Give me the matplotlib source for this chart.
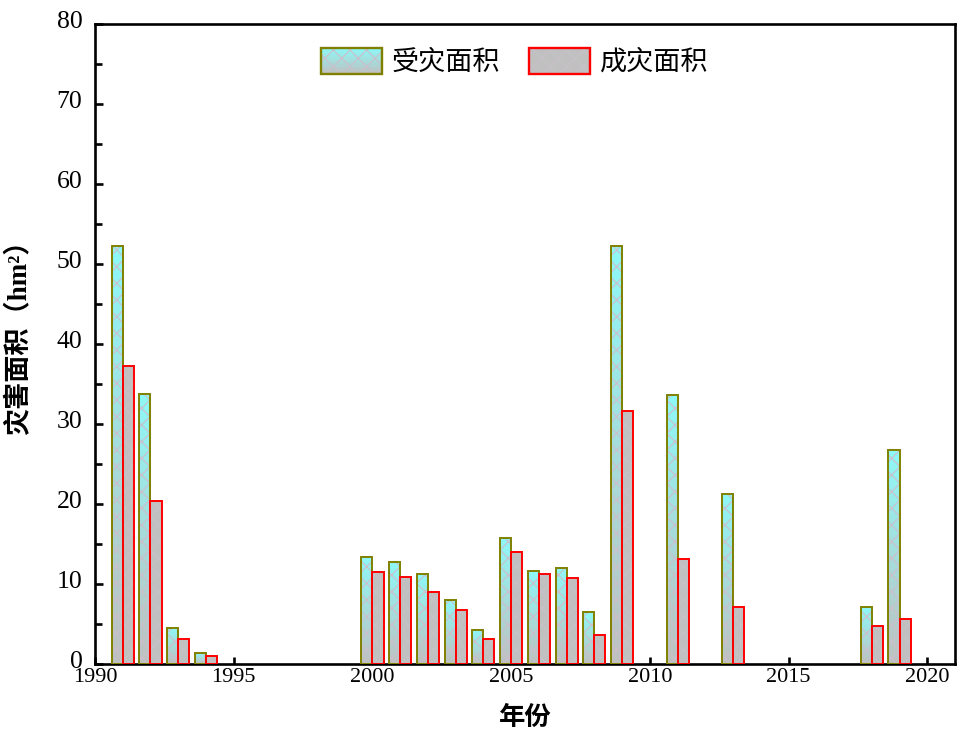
import numpy as np
import matplotlib
matplotlib.use("Agg")
import matplotlib.pyplot as plt
from matplotlib.patches import Rectangle
from matplotlib.legend_handler import HandlerBase
from matplotlib.image import BboxImage
from matplotlib.transforms import Bbox, TransformedBbox, ScaledTranslation
from matplotlib.colors import LinearSegmentedColormap

years = [1991, 1992, 1993, 1994, 2000, 2001, 2002, 2003, 2004, 2005,
         2006, 2007, 2008, 2009, 2011, 2013, 2018, 2019]
affected = [52.2, 33.8, 4.5, 1.4, 13.4, 12.7, 11.3, 8.0, 4.2, 15.7,
            11.6, 12.0, 6.5, 52.2, 33.6, 21.25, 7.1, 26.8]
damaged = [37.2, 20.4, 3.1, 1.0, 11.5, 10.9, 9.0, 6.8, 3.1, 14.0,
           11.2, 10.75, 3.6, 31.6, 13.1, 7.1, 4.8, 5.6]
series_names = ["受灾面积", "成灾面积"]
xlabel = "年份"
ylabel = "灾害面积（hm²）"

CYAN = "#8ef8f8"
GRAY = "#c0c0c0"
OLIVE = "#808000"
RED = "#ff0000"
HATCH_C = "#cbbfcb"
HATCH_C2 = "#c8c2c8"
grad_cmap = LinearSegmentedColormap.from_list("g", [GRAY, CYAN])
grad = np.linspace(0, 1, 256).reshape(-1, 1)

plt.rcParams["hatch.linewidth"] = 0.8
serif = ["Liberation Serif", "Noto Sans CJK SC"]
cjk = ["Noto Sans CJK SC", "Liberation Serif"]

fig = plt.figure(figsize=(9.69, 7.33), dpi=100)
ax = fig.add_axes([0.098, 0.0941, 0.8876, 0.8732])

w = 0.40
x = np.array(years, dtype=float)

# affected: gradient + hatch + outline
b1 = ax.bar(x - w, affected, width=w, align="edge", facecolor="none",
            edgecolor=OLIVE, linewidth=1.4, zorder=4)
ax.bar(x - w, affected, width=w, align="edge", fill=False, hatch="xx",
       edgecolor=HATCH_C, linewidth=0, zorder=3)
for p in b1.patches:
    x0, y0 = p.get_x(), p.get_y()
    im = ax.imshow(grad, cmap=grad_cmap, origin="lower", aspect="auto",
                   extent=(x0, x0 + p.get_width(), y0, y0 + p.get_height()),
                   zorder=2, interpolation="bilinear")
    im.set_clip_path(p)

# damaged: gray + faint hatch + outline
ax.bar(x, damaged, width=w, align="edge", facecolor=GRAY,
       edgecolor="none", linewidth=0, zorder=2)
ax.bar(x, damaged, width=w, align="edge", fill=False, hatch="xx",
       edgecolor=HATCH_C2, linewidth=0, zorder=3)
ax.bar(x, damaged, width=w, align="edge", facecolor="none",
       edgecolor=RED, linewidth=1.4, zorder=4)

ax.set_xlim(1990, 2021)
ax.set_ylim(0, 80)
ax.set_xticks(np.arange(1990, 2021, 5))
ax.set_yticks(np.arange(0, 81, 10))
ax.set_yticks(np.arange(5, 80, 10), minor=True)
for s in ax.spines.values():
    s.set_linewidth(1.9)
ax.tick_params(axis="both", which="both", direction="in", width=1.9)
ax.tick_params(axis="y", which="major", length=6, pad=9)
ax.tick_params(axis="y", which="minor", length=5)
ax.tick_params(axis="x", which="major", length=5, pad=3)
for lab in ax.get_xticklabels():
    lab.set_fontfamily(serif)
    lab.set_fontsize(16)
up = ScaledTranslation(0, 3.5 / 72, fig.dpi_scale_trans)
for lab in ax.get_yticklabels():
    lab.set_fontfamily(serif)
    lab.set_fontsize(18.5)
    lab.set_transform(lab.get_transform() + up)

ax.set_xlabel(xlabel, fontfamily=cjk, fontsize=19, fontweight="bold")
ax.xaxis.set_label_coords(0.5, -0.062)
ax.xaxis.label.set_va("top")
ax.set_ylabel(ylabel, fontfamily=serif, fontsize=19.5, fontweight="bold")
ax.yaxis.set_label_coords(-0.073, 0.52)


class GradHandler(HandlerBase):
    def __init__(self, gradient, edge, hatchc):
        super().__init__()
        self.gradient = gradient
        self.edge = edge
        self.hatchc = hatchc

    def create_artists(self, legend, orig_handle, xdescent, ydescent,
                       width, height, fontsize, trans):
        bb = TransformedBbox(Bbox.from_bounds(-xdescent, -ydescent, width, height), trans)
        arts = []
        if self.gradient:
            img = BboxImage(bb, cmap=grad_cmap, interpolation="bilinear", origin="lower")
            img.set_data(grad)
            arts.append(img)
        else:
            arts.append(Rectangle((-xdescent, -ydescent), width, height,
                                  facecolor=GRAY, linewidth=0, transform=trans))
        arts.append(Rectangle((-xdescent, -ydescent), width, height, fill=False,
                              hatch="xx", edgecolor=self.hatchc, linewidth=0,
                              transform=trans))
        arts.append(Rectangle((-xdescent, -ydescent), width, height,
                              facecolor="none", edgecolor=self.edge,
                              linewidth=1.7, transform=trans))
        return arts


h1 = Rectangle((0, 0), 1, 1)
h2 = Rectangle((0, 0), 1, 1)
leg = ax.legend([h1, h2], series_names, loc="center",
                bbox_to_anchor=(0.488, 0.9406), ncol=2, frameon=False,
                prop={"family": cjk, "size": 19.5},
                handlelength=2.25, handleheight=1.1, handletextpad=0.38,
                columnspacing=1.05,
                handler_map={h1: GradHandler(True, OLIVE, HATCH_C),
                             h2: GradHandler(False, RED, HATCH_C2)})

fig.savefig("out.png", dpi=100)
